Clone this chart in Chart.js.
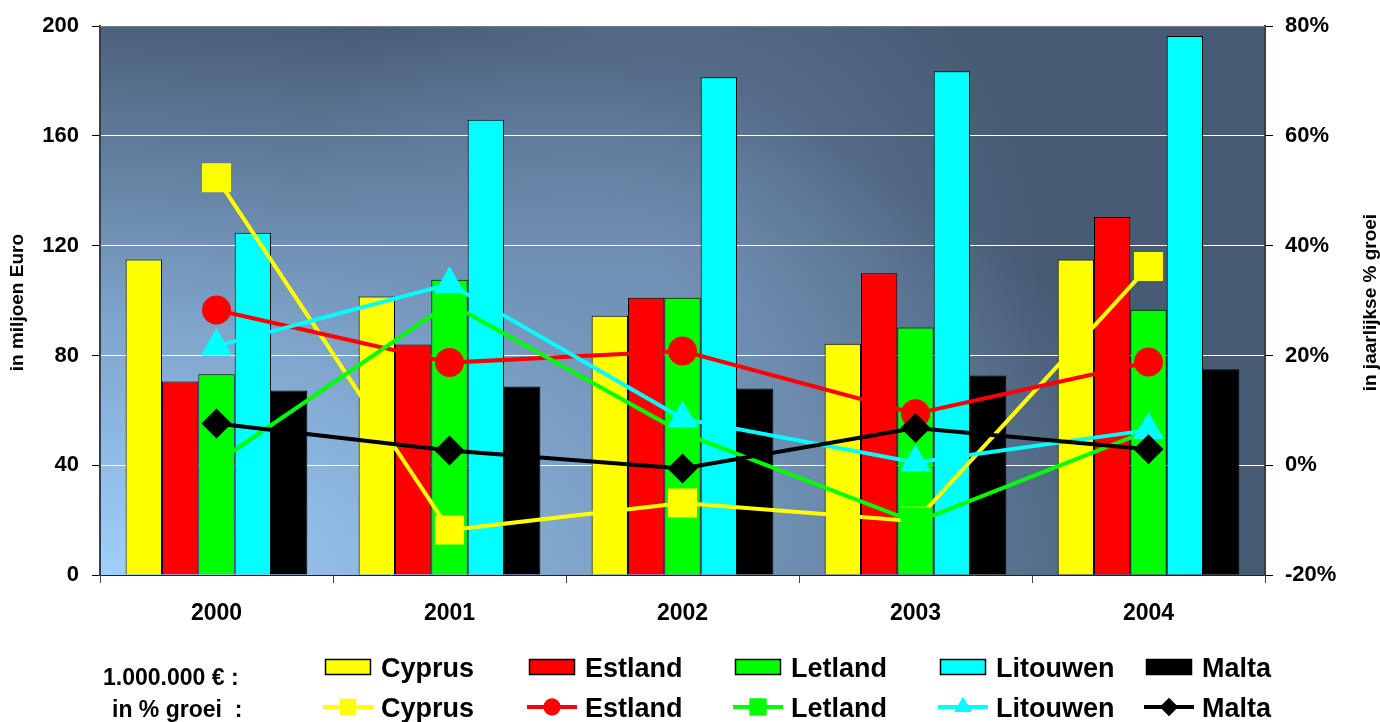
<!DOCTYPE html>
<html>
<head>
<meta charset="utf-8">
<title>Groei nieuwe lidstaten</title>
<script src="https://cdn.jsdelivr.net/npm/chart.js"></script>
<style>
  html, body { margin: 0; padding: 0; background: #fff; }
  #wrap { position: relative; width: 1380px; height: 722px; }
</style>
</head>
<body>
<div id="wrap"><canvas id="chart" width="1380" height="722"></canvas></div>
<script>
// categories and series
const years = ['2000', '2001', '2002', '2003', '2004'];
const countries = ['Cyprus', 'Estland', 'Letland', 'Litouwen', 'Malta'];

// in miljoen Euro (bars, left axis)
const cyprusEuro = [115, 101.5, 94.5, 84.3, 115];
const estlandEuro = [70.5, 84, 101, 110, 130.5];
const letlandEuro = [73.2, 107.6, 101, 90.2, 96.7];
const litouwenEuro = [124.7, 165.9, 181.4, 183.6, 196.4];
const maltaEuro = [67.2, 68.7, 68, 72.7, 75];

// in jaarlijkse % groei (lines, right axis)
const cyprusGroei = [52.4, -11.8, -6.9, -10.2, 36.2];
const estlandGroei = [28.3, 18.7, 20.8, 9.4, 18.8];
const letlandGroei = [0.5, 29.5, 5.9, -10.4, 6.3];
const litouwenGroei = [21.7, 33, 8.5, 0.5, 6.4];
const maltaGroei = [7.6, 2.7, -0.6, 6.8, 2.9];

// axis ranges
const euroMin = 0, euroMax = 200, euroStep = 40;
const groeiMin = -20, groeiMax = 80, groeiStep = 20;

const euroSeries = [cyprusEuro, estlandEuro, letlandEuro, litouwenEuro, maltaEuro];
const groeiSeries = [cyprusGroei, estlandGroei, letlandGroei, litouwenGroei, maltaGroei];

const colors = ['#ffff00', '#ff0000', '#00ff00', '#00ffff', '#000000'];
const pointStyles = ['rect', 'circle', 'rect', 'triangle', 'rectRot'];
const pointSizes = [20.5, 14.5, 21, 18, 15];
const legendSizes = [11.5, 8.5, 12, 10, 9];

const FONT = '"Liberation Sans", Arial, sans-serif';

function buildDatasets() {
    const sets = [];
    countries.forEach((name, i) => {
        sets.push({
            type: 'line',
            label: name + ' %',
            data: groeiSeries[i],
            yAxisID: 'yGroei',
            borderColor: colors[i],
            backgroundColor: colors[i],
            borderWidth: 4,
            pointStyle: pointStyles[i],
            pointRadius: pointSizes[i],
            pointBorderWidth: 0,
            pointBackgroundColor: colors[i],
            tension: 0,
            order: 5 - i // Malta drawn on top of the other lines
        });
    });
    countries.forEach((name, i) => {
        sets.push({
            type: 'bar',
            label: name,
            data: euroSeries[i],
            yAxisID: 'yEuro',
            backgroundColor: colors[i],
            borderColor: '#000',
            borderWidth: 1,
            borderSkipped: 'bottom',
            barPercentage: 1,
            categoryPercentage: 0.78,
            order: 10
        });
    });
    return sets;
}

// gradient background of the plot area
const plotBackground = {
    id: 'plotBackground',
    beforeDraw(chart) {
        const { ctx, chartArea: a } = chart;
        const w = a.right - a.left, h = a.bottom - a.top;
        ctx.save();
        ctx.beginPath();
        ctx.rect(a.left, a.top, w, h);
        ctx.clip();
        ctx.translate(a.left, a.bottom);
        ctx.scale(1, 0.52);
        const g = ctx.createRadialGradient(0, 0, 0, 0, 0, 1100);
        g.addColorStop(0, '#9fcffc');
        g.addColorStop(0.45, '#7ea4ca');
        g.addColorStop(1, '#475b74');
        ctx.fillStyle = g;
        ctx.fillRect(0, -h / 0.52, w, h / 0.52);
        ctx.restore();

        ctx.save();
        ctx.beginPath();
        ctx.rect(a.left, a.top, w, h);
        ctx.clip();
        const cx = a.left + w * 0.48, cy = a.top + h * 0.45;
        const glow = ctx.createRadialGradient(cx, cy, 0, cx, cy, 380);
        glow.addColorStop(0, 'rgba(125,160,200,0.55)');
        glow.addColorStop(1, 'rgba(125,160,200,0)');
        ctx.fillStyle = glow;
        ctx.fillRect(a.left, a.top, w, h);
        ctx.restore();
    },
    afterDatasetsDraw(chart) {
        const { ctx, chartArea: a } = chart;
        ctx.save();
        ctx.strokeStyle = '#6b7480';
        ctx.lineWidth = 1;
        ctx.beginPath();
        ctx.moveTo(a.left, a.top + 0.5);
        ctx.lineTo(a.right, a.top + 0.5);
        ctx.stroke();
        ctx.restore();
    }
};

// axis titles (both read bottom to top) and the two-row legend
const titlesAndLegend = {
    id: 'titlesAndLegend',
    afterDraw(chart) {
        const { ctx, chartArea: a } = chart;
        const midY = (a.top + a.bottom) / 2 + 2;
        ctx.save();
        ctx.fillStyle = '#000';
        ctx.font = 'bold 19px ' + FONT;
        ctx.textAlign = 'center';
        ctx.textBaseline = 'middle';
        ctx.translate(18, midY);
        ctx.rotate(-Math.PI / 2);
        ctx.fillText('in miljoen Euro', 0, 0);
        ctx.restore();

        ctx.save();
        ctx.fillStyle = '#000';
        ctx.font = 'bold 19px ' + FONT;
        ctx.textAlign = 'center';
        ctx.textBaseline = 'middle';
        ctx.translate(1371, midY);
        ctx.rotate(-Math.PI / 2);
        ctx.fillText('in jaarlijkse % groei', 0, 0);
        ctx.restore();

        drawLegend(ctx);
    }
};

function drawLegend(ctx) {
    const swatchX = [325, 529, 735, 940, 1146];
    const swW = 46;
    ctx.save();
    ctx.fillStyle = '#000';
    ctx.textBaseline = 'alphabetic';
    ctx.textAlign = 'left';
    ctx.font = 'bold 23px ' + FONT;
    ctx.fillText('1.000.000 € :', 103, 685);
    ctx.fillText('in % groei  :', 112, 717);

    countries.forEach((name, i) => {
        const x = swatchX[i];
        // bar swatch
        ctx.fillStyle = colors[i];
        ctx.fillRect(x, 659, swW, 16);
        ctx.strokeStyle = '#000';
        ctx.lineWidth = 1.5;
        ctx.strokeRect(x + 0.5, 659.5, swW - 1, 15);
        // line swatch
        ctx.strokeStyle = colors[i];
        ctx.lineWidth = 4;
        ctx.beginPath();
        ctx.moveTo(x - 2, 707);
        ctx.lineTo(x + swW + 2, 707);
        ctx.stroke();
        ctx.fillStyle = colors[i];
        Chart.helpers.drawPoint(ctx, {
            pointStyle: pointStyles[i], radius: legendSizes[i], rotation: 0, borderWidth: 0
        }, x + swW / 2, 707);
        ctx.fill();
        // labels
        ctx.fillStyle = '#000';
        ctx.font = 'bold 27px ' + FONT;
        ctx.fillText(name, x + 56, 677);
        ctx.fillText(name, x + 56, 717);
    });
    ctx.restore();
}

function renderChart() {
    const ctx = document.getElementById('chart').getContext('2d');
    new Chart(ctx, {
        data: { labels: years, datasets: buildDatasets() },
        plugins: [plotBackground, titlesAndLegend],
        options: {
            responsive: false,
            animation: false,
            layout: { padding: { top: 25, left: 0, right: 0, bottom: 0 } },
            plugins: {
                legend: { display: false },
                tooltip: { enabled: false }
            },
            scales: {
                x: {
                    offset: true,
                    grid: {
                        offset: true,
                        drawOnChartArea: false,
                        drawTicks: true,
                        tickLength: 8,
                        tickColor: '#444',
                        tickWidth: 1
                    },
                    border: { display: true, color: '#222', width: 1 },
                    ticks: {
                        color: '#000',
                        padding: 17,
                        font: { family: FONT, size: 23, weight: 'bold' }
                    },
                    afterFit(scale) { scale.height = 147; }
                },
                yEuro: {
                    type: 'linear',
                    position: 'left',
                    min: euroMin,
                    max: euroMax,
                    ticks: {
                        stepSize: euroStep,
                        color: '#000',
                        padding: 13,
                        font: { family: FONT, size: 22, weight: 'bold' }
                    },
                    grid: {
                        color: c => (c.tick && (c.tick.value === euroMin || c.tick.value === euroMax)) ? 'rgba(0,0,0,0)' : '#ffffff',
                        lineWidth: 1,
                        tickColor: '#000',
                        tickLength: 8
                    },
                    border: { display: true, color: '#3a3f46', width: 2 },
                    afterFit(scale) { scale.width = 100; }
                },
                yGroei: {
                    type: 'linear',
                    position: 'right',
                    min: groeiMin,
                    max: groeiMax,
                    ticks: {
                        stepSize: groeiStep,
                        color: '#000',
                        padding: 12,
                        font: { family: FONT, size: 22, weight: 'bold' },
                        callback: v => v + '%'
                    },
                    grid: {
                        drawOnChartArea: false,
                        tickColor: '#000',
                        tickLength: 8
                    },
                    border: { display: true, color: '#3a3f46', width: 2 },
                    afterFit(scale) { scale.width = 115; }
                }
            }
        }
    });
}

document.addEventListener('DOMContentLoaded', renderChart);
</script>
</body>
</html>
